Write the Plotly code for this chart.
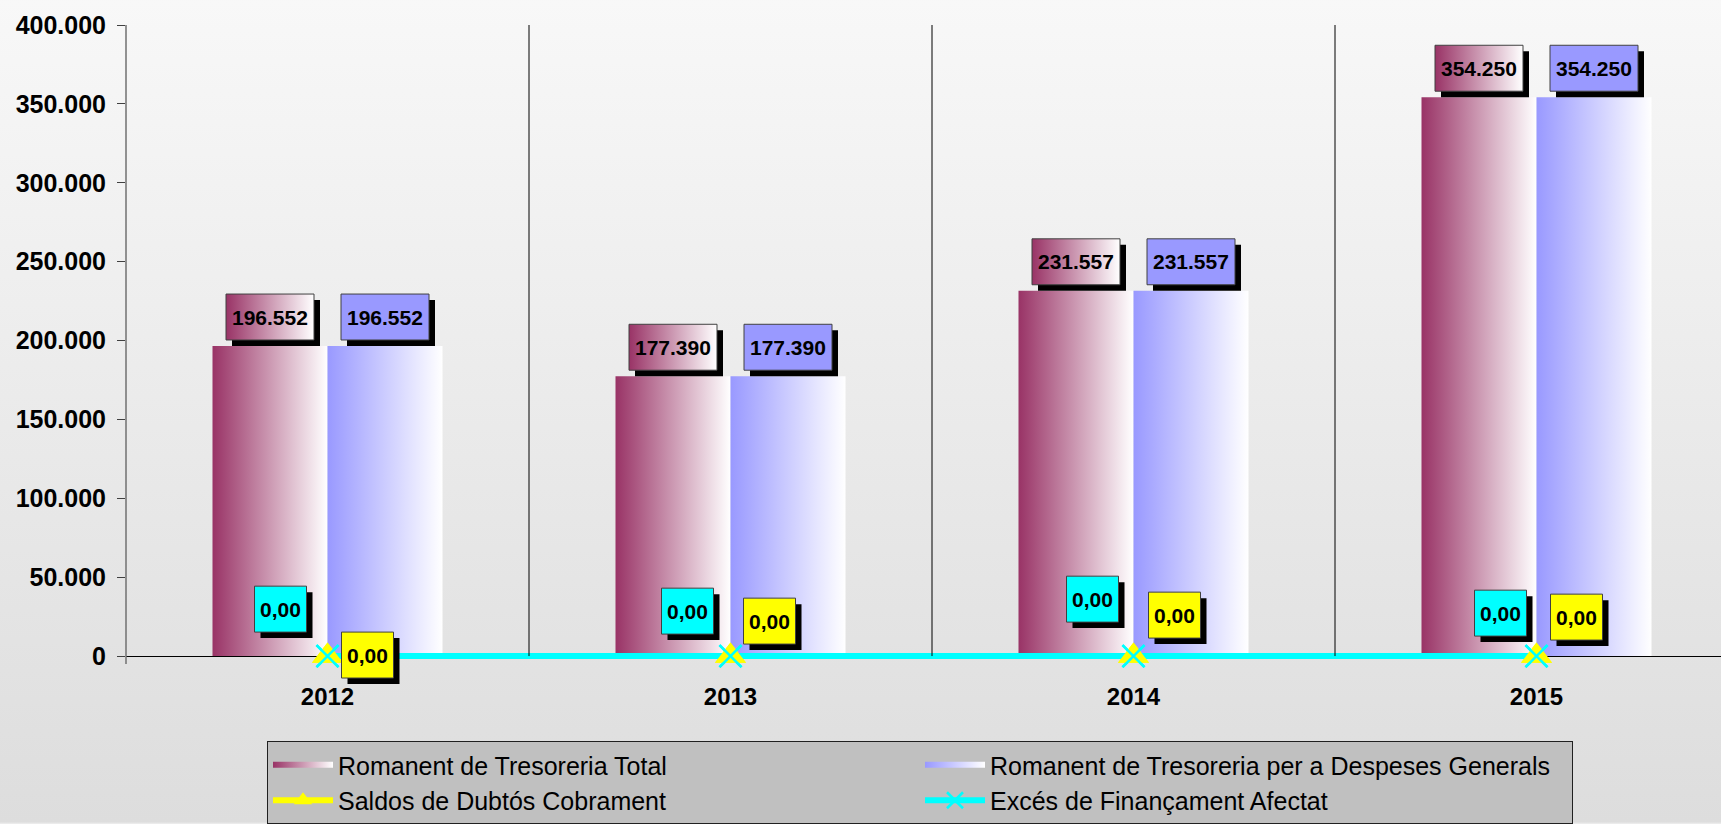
import base64
import plotly.graph_objects as go

# ---------------- data ----------------
years = ["2012", "2013", "2014", "2015"]
romanent_total = [196552, 177390, 231557, 354250]
romanent_generals = [196552, 177390, 231557, 354250]
saldos_dubtos = [0.0, 0.0, 0.0, 0.0]
exces_financament = [0.0, 0.0, 0.0, 0.0]
series_names = [
    "Romanent de Tresoreria Total",
    "Romanent de Tresoreria per a Despeses Generals",
    "Saldos de Dubtós Cobrament",
    "Excés de Finançament Afectat",
]
y_tick_values = [0, 50000, 100000, 150000, 200000, 250000, 300000, 350000, 400000]

# ---------------- layout constants ----------------
W, H = 1721, 824
TOP_PX, ZERO_PX, PAD_BELOW = 25, 657, 32
M_L, M_R, M_T = 126, 0, TOP_PX
M_B = H - (ZERO_PX + PAD_BELOW)
PX_PER_CAT = 403
plot_w = W - M_L - M_R
plot_h = H - M_T - M_B
y_top = 400000
DY = y_top / (ZERO_PX - TOP_PX)           # data units per pixel (y)
y_lo, y_hi = -PAD_BELOW * DY, y_top
x_lo = -0.5
x_hi = x_lo + plot_w / PX_PER_CAT
DX = (x_hi - x_lo) / plot_w               # data units per pixel (x)
BAR_PX = 115
FONT = "Liberation Sans, Arial, sans-serif"

MAROON, BLUE, YELLOW, CYAN = "#993366", "#9999FF", "#FFFF00", "#00FFFF"

# pixel offsets (from category centre / zero line) of the zero-value labels
exces_label_off = [(-47, 47), (-43, 45), (-41, 57), (-36, 43)]
saldos_label_off = [(40, 1), (39, 35), (41, 41), (40, 39)]

fig = go.Figure()


def rect(x0, x1, y0, y1):
    return [x0, x1, x1, x0, x0], [y0, y0, y1, y1, y0]


# bars (gradient fill)
for s_idx, (vals, col) in enumerate([(romanent_total, MAROON), (romanent_generals, BLUE)]):
    for i, v in enumerate(vals):
        if s_idx == 0:
            x0, x1 = i - BAR_PX * DX, i
        else:
            x0, x1 = i, i + BAR_PX * DX
        xs, ys = rect(x0, x1, 0, v)
        fig.add_trace(go.Scatter(
            x=xs, y=ys, mode="none", fill="toself",
            fillcolor=col,
            fillgradient=dict(type="horizontal", colorscale=[[0, col], [1, "#FFFFFF"]],
                              start=x0, stop=x1),
            name=series_names[s_idx], legendgroup=series_names[s_idx],
            showlegend=(i == 0), hoverinfo="skip",
        ))

x_idx = list(range(len(years)))

tri = dict(symbol="triangle-up", size=27, color=YELLOW, line=dict(width=0))
xm = dict(symbol="x-thin-open", size=22, color=CYAN, line=dict(color=CYAN, width=2.5))

# lines
fig.add_trace(go.Scatter(
    x=x_idx, y=saldos_dubtos, mode="lines+markers", name=series_names[2],
    line=dict(color=YELLOW, width=6), marker=tri, cliponaxis=False, hoverinfo="skip",
))
fig.add_trace(go.Scatter(
    x=x_idx, y=exces_financament, mode="lines+markers", name=series_names[3],
    line=dict(color=CYAN, width=6), marker=xm, cliponaxis=False, hoverinfo="skip",
))
# markers on top of the line
fig.add_trace(go.Scatter(x=x_idx, y=saldos_dubtos, mode="markers", showlegend=False,
                         marker=tri, cliponaxis=False, hoverinfo="skip"))
fig.add_trace(go.Scatter(x=x_idx, y=exces_financament, mode="markers", showlegend=False,
                         marker=xm, cliponaxis=False, hoverinfo="skip"))

annotations = []


def label_box(cx, cy, w_px, h_px, text, fill, gradient=False):
    hx, hy = w_px / 2 * DX, h_px / 2 * DY
    sx, sy = 6 * DX, 6 * DY
    xs, ys = rect(cx - hx + sx, cx + hx + sx, cy - hy - sy, cy + hy - sy)
    fig.add_trace(go.Scatter(x=xs, y=ys, mode="none", fill="toself", fillcolor="#000000",
                             showlegend=False, hoverinfo="skip"))
    xs, ys = rect(cx - hx, cx + hx, cy - hy, cy + hy)
    kw = {}
    if gradient:
        kw["fillgradient"] = dict(type="horizontal", colorscale=[[0, fill], [1, "#FFFFFF"]],
                                  start=cx - hx, stop=cx + hx)
    fig.add_trace(go.Scatter(x=xs, y=ys, mode="lines", fill="toself", fillcolor=fill,
                             line=dict(color="#404040", width=1),
                             showlegend=False, hoverinfo="skip", **kw))
    annotations.append(dict(x=cx, y=cy, xref="x", yref="y", text=text, showarrow=False,
                            font=dict(family=FONT, size=21, color="black", weight="bold")))


def fmt_thousands(v):
    return f"{int(round(v)):,}".replace(",", ".")


def fmt_dec(v):
    return f"{v:.2f}".replace(".", ",")


for i, v in enumerate(romanent_total):
    label_box(i - BAR_PX / 2 * DX, v + 29 * DY, 88, 46, fmt_thousands(v), MAROON, gradient=True)
for i, v in enumerate(romanent_generals):
    label_box(i + BAR_PX / 2 * DX, v + 29 * DY, 88, 46, fmt_thousands(v), BLUE)
for i, v in enumerate(exces_financament):
    ox, oy = exces_label_off[i]
    label_box(i + ox * DX, v + oy * DY, 52, 46, fmt_dec(v), CYAN)
for i, v in enumerate(saldos_dubtos):
    ox, oy = saldos_label_off[i]
    label_box(i + ox * DX, v + oy * DY, 52, 46, fmt_dec(v), YELLOW)

# background gradient
svg = ('<svg xmlns="http://www.w3.org/2000/svg" width="100" height="100" viewBox="0 0 100 100" '
       'preserveAspectRatio="none"><defs><linearGradient id="g" x1="0" y1="0" x2="0" y2="1">'
       '<stop offset="0" stop-color="#F8F8F8"/><stop offset="1" stop-color="#DDDDDD"/>'
       '</linearGradient></defs><rect width="100" height="100" fill="url(#g)"/></svg>')
bg_src = "data:image/svg+xml;base64," + base64.b64encode(svg.encode()).decode()

shapes = []
# category separators
for i in x_idx[:-1]:
    shapes.append(dict(type="line", xref="x", yref="y", x0=i + 0.5, x1=i + 0.5,
                       y0=0, y1=y_top, line=dict(color="black", width=1), layer="above"))
# value axis line
shapes.append(dict(type="line", xref="paper", yref="y", x0=0, x1=0, y0=-8 * DY, y1=y_top,
                   line=dict(color="#707070", width=1.5), layer="above"))

fig.update_layout(
    width=W, height=H,
    margin=dict(l=M_L, r=M_R, t=M_T, b=M_B, pad=0),
    paper_bgcolor="#EBEBEB", plot_bgcolor="rgba(0,0,0,0)",
    separators=",.",
    hovermode=False,
    font=dict(family=FONT, color="black"),
    images=[dict(source=bg_src, xref="paper", yref="paper",
                 x=-M_L / plot_w, y=1 + M_T / plot_h,
                 sizex=W / plot_w, sizey=H / plot_h,
                 xanchor="left", yanchor="top", sizing="stretch", layer="below")],
    shapes=shapes,
    xaxis=dict(
        range=[x_lo, x_hi], tickvals=x_idx, ticktext=years, ticks="",
        anchor="free", position=PAD_BELOW / plot_h, layer="below traces",
        showline=True, linecolor="black", linewidth=1, showgrid=False, zeroline=False,
        tickfont=dict(family=FONT, size=24, color="black", weight="bold"),
        ticklabelstandoff=19,
    ),
    yaxis=dict(
        range=[y_lo, y_hi], tickvals=y_tick_values, tickformat=",d",
        ticks="outside", ticklen=8, tickcolor="#404040", tickwidth=1,
        showline=False, showgrid=False, zeroline=False,
        tickfont=dict(family=FONT, size=25, color="black", weight="bold"),
        ticklabelstandoff=6,
    ),
    yaxis2=dict(
        range=[y_lo, y_hi], tickvals=y_tick_values, overlaying="y", side="left",
        ticks="inside", ticklen=8, tickcolor="#404040", showticklabels=False,
        showline=False, showgrid=False, zeroline=False,
    ),
    legend=dict(
        orientation="h", x=(267 - M_L) / plot_w, xanchor="left",
        y=-(742 - (H - M_B)) / plot_h, yanchor="top",
        bgcolor="#C0C0C0", bordercolor="#202020", borderwidth=1,
        font=dict(family=FONT, size=25, color="black"),
        entrywidth=577, itemwidth=60, traceorder="normal",
    ),
    showlegend=True,
)
fig.update_layout(annotations=annotations)

fig.write_html("out.html", config={"displayModeBar": False},
               post_script="document.body.style.margin='0';document.body.style.overflow='hidden';")
